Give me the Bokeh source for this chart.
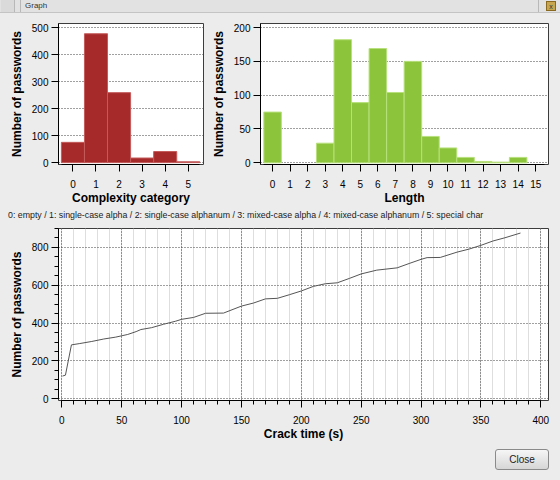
from bokeh.plotting import figure
from bokeh.layouts import column, row
from bokeh.models import Div, FixedTicker
from bokeh.embed import file_html
from bokeh.resources import INLINE

BG = "#ececec"
FONT = "Liberation Sans"

# ---- data ----
complexity_cats = [0, 1, 2, 3, 4, 5]
complexity_counts = [75, 477, 259, 17, 41, 3]

length_cats = list(range(16))
length_counts = [75, 0, 0, 29, 182, 89, 169, 104, 150, 39, 22, 8, 2, 1, 8, 0]

crack_time = [0.5, 3, 8, 15, 25, 35, 45, 55, 62, 66, 75, 85, 95, 100, 110, 120,
              135, 150, 160, 170, 180, 190, 200, 210, 220, 230, 240, 250, 263,
              280, 290, 300, 305, 316, 330, 340, 350, 360, 370, 383]
cracked = [120, 125, 285, 292, 303, 316, 326, 340, 355, 366, 376, 394, 410, 420,
           430, 452, 453, 490, 506, 528, 531, 550, 570, 594, 608, 613, 636, 660,
           680, 692, 715, 737, 746, 747, 775, 791, 811, 834, 851, 876]

complexity_ticks = [0, 1, 2, 3, 4, 5]
complexity_yticks = [0, 100, 200, 300, 400, 500]
length_ticks = list(range(16))
length_yticks = [0, 50, 100, 150, 200]
time_ticks = [0, 50, 100, 150, 200, 250, 300, 350, 400]
time_minor = list(range(0, 401, 10))
count_ticks = [0, 200, 400, 600, 800]
count_minor = list(range(0, 901, 50))

legend_text = ("0: empty / 1: single-case alpha / 2: single-case alphanum / "
               "3: mixed-case alpha / 4: mixed-case alphanum / 5: special char")
window_title = "Graph"
close_label = "Close"


def style(p):
    p.background_fill_color = "white"
    p.border_fill_color = BG
    p.outline_line_color = "#3c3c3c"
    p.outline_line_width = 1
    for ax in p.axis:
        ax.axis_line_color = "black"
        ax.major_tick_line_color = "black"
        ax.minor_tick_line_color = "black"
        ax.major_label_text_font = FONT
        ax.major_label_text_font_size = "10px"
        ax.major_label_text_color = "black"
        ax.axis_label_text_font = FONT
        ax.axis_label_text_font_size = "12px"
        ax.axis_label_text_font_style = "bold"
        ax.axis_label_text_color = "black"
        ax.major_tick_out = 7
        ax.major_tick_in = 0
        ax.minor_tick_out = 4
        ax.minor_tick_in = 0
    p.xaxis.major_label_standoff = 8
    p.xaxis.axis_label_standoff = 0
    p.yaxis.major_label_standoff = 3
    p.yaxis.axis_label_standoff = 5
    p.xgrid.grid_line_color = None
    p.ygrid.grid_line_color = "#404040"
    p.ygrid.grid_line_dash = "1 2"


# ---- title bar ----
title_bar = Div(
    text=('<div style="position:relative;width:560px;height:13px;background:#e2e2e2;'
          'border-bottom:1px solid #c4c4c4;box-sizing:border-box;'
          'font-family:Liberation Sans;font-size:8px;color:#333;">'
          '<div style="position:absolute;left:1px;top:0;width:14px;height:12px;'
          'border-right:1px solid #b8b8b8;background:#dadada;"></div>'
          '<div style="position:absolute;left:20px;top:0;width:519px;height:12px;'
          'border-left:1px solid #b8b8b8;border-right:1px solid #b8b8b8;'
          'line-height:12px;padding-left:4px;box-sizing:border-box;">'
          + window_title + '</div>'
          '<div style="position:absolute;left:546px;top:1px;width:10px;height:10px;'
          'background:#c8a650;border:1px solid #8a6a20;font-size:7px;'
          'line-height:10px;text-align:center;">x</div></div>'),
    width=560, height=13, margin=0, styles={"background-color": BG})

# ---- top-left: complexity ----
p1 = figure(width=208, height=195, x_range=(-0.625, 5.66), y_range=(-7, 515),
            output_backend="svg", toolbar_location=None,
            min_border_left=58, min_border_right=5, min_border_top=10, min_border_bottom=44)
p1.vbar(x=complexity_cats, top=complexity_counts, width=1, bottom=0,
        fill_color="#a62a2a", line_color="#c45a5a")
style(p1)
p1.xaxis.ticker = FixedTicker(ticks=complexity_ticks, minor_ticks=[])
p1.yaxis.ticker = FixedTicker(ticks=complexity_yticks, minor_ticks=[])
p1.xaxis.bounds = (-0.5, 5.5)
p1.xaxis.axis_label = "Complexity category"
p1.yaxis.axis_label = "Number of passwords"

# ---- top-right: length ----
nz_len = [c for c, v in zip(length_cats, length_counts) if v > 0]
nz_cnt = [v for v in length_counts if v > 0]
p2 = figure(width=352, height=195, x_range=(-0.69, 15.73), y_range=(-2.5, 206),
            output_backend="svg", toolbar_location=None,
            min_border_left=48, min_border_right=12, min_border_top=10, min_border_bottom=44)
p2.vbar(x=nz_len, top=nz_cnt, width=1, bottom=0,
        fill_color="#8cc43c", line_color="#b8e07c")
style(p2)
p2.xaxis.ticker = FixedTicker(ticks=length_ticks, minor_ticks=[])
p2.yaxis.ticker = FixedTicker(ticks=length_yticks, minor_ticks=[])
p2.xaxis.bounds = (-0.5, 15.5)
p2.xaxis.axis_label = "Length"
p2.yaxis.axis_label = "Number of passwords"

# ---- legend text ----
legend = Div(text=legend_text, width=560, height=14, margin=0,
             styles={"font-family": FONT, "font-size": "8.8px", "line-height": "14px",
                     "color": "#1a1a1a", "white-space": "nowrap", "padding-left": "8px",
                     "box-sizing": "border-box", "background-color": BG})

# ---- bottom: crack time ----
p3 = figure(width=560, height=222, x_range=(-2.8, 406.4), y_range=(-9, 900),
            output_backend="svg", toolbar_location=None,
            min_border_left=58, min_border_right=12, min_border_top=6, min_border_bottom=44)
p3.line(crack_time, cracked, line_color="#555555", line_width=1)
style(p3)
p3.xaxis.ticker = FixedTicker(ticks=time_ticks, minor_ticks=time_minor)
p3.yaxis.ticker = FixedTicker(ticks=count_ticks, minor_ticks=count_minor)
p3.xaxis.bounds = (0, 400)
p3.yaxis.bounds = (0, 900)
p3.xgrid.grid_line_color = "#404040"
p3.xgrid.grid_line_dash = "1 2"
p3.xgrid.minor_grid_line_color = "#dedede"
p3.xaxis.axis_label = "Crack time (s)"
p3.yaxis.axis_label = "Number of passwords"

# ---- close button ----
close_btn = Div(
    text=('<div style="margin-left:495px;margin-top:5px;width:54px;height:21px;'
          'border:1px solid #8a8a8a;border-radius:3px;box-sizing:border-box;'
          'background:linear-gradient(#f6f6f6,#d6d6d6);'
          'font-family:Liberation Sans;font-size:10px;color:#222;'
          'text-align:center;line-height:19px;">' + close_label + '</div>'),
    width=560, height=36, margin=0, styles={"background-color": BG})

layout = column(title_bar, row(p1, p2), legend, p3, close_btn,
                styles={"background-color": BG})

open("out.html", "w").write(file_html(layout, INLINE))
